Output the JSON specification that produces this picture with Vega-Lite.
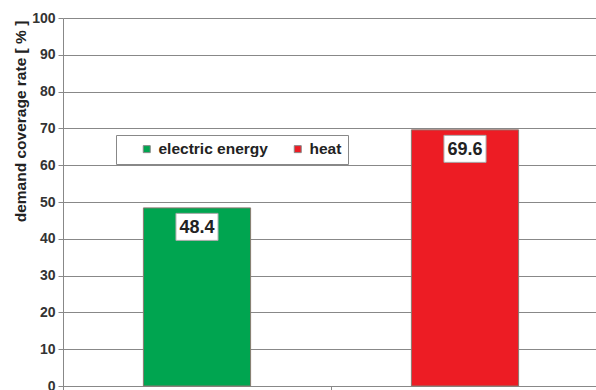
{
  "$schema": "https://vega.github.io/schema/vega-lite/v6.json",
  "width": 536,
  "height": 368,
  "autosize": {"type": "none"},
  "padding": {"left": 63, "top": 18, "right": 0, "bottom": 4},
  "background": "white",
  "config": {
    "font": "Liberation Sans",
    "view": {"stroke": null}
  },
  "data": {
    "values": [
      {"type": "electric energy", "rate": 48.4},
      {"type": "heat", "rate": 69.6}
    ]
  },
  "encoding": {
    "x": {
      "field": "type",
      "type": "nominal",
      "sort": ["electric energy", "heat"],
      "scale": {"paddingInner": 0, "paddingOuter": 0},
      "axis": {
        "title": null,
        "labels": false,
        "bandPosition": 0,
        "domainColor": "#888",
        "tickColor": "#888",
        "tickSize": 5,
        "grid": false
      }
    },
    "y": {
      "field": "rate",
      "type": "quantitative",
      "scale": {"domain": [0, 100], "nice": false},
      "axis": {
        "title": "demand coverage rate [ % ]",
        "titleFont": "Liberation Sans",
        "titleFontSize": 15.5,
        "titleFontWeight": "bold",
        "titleColor": "#222",
        "titleAngle": 270,
        "titleAlign": "center",
        "titleBaseline": "middle",
        "titleX": -43,
        "titleY": 103,
        "values": [0, 10, 20, 30, 40, 50, 60, 70, 80, 90, 100],
        "labelFontSize": 14,
        "labelFontWeight": "bold",
        "labelColor": "#333",
        "labelPadding": 3,
        "tickSize": 5,
        "tickColor": "#888",
        "domainColor": "#888",
        "grid": true,
        "gridColor": "#888",
        "gridWidth": 1.2
      }
    }
  },
  "layer": [
    {
      "mark": {"type": "bar", "width": {"band": 0.4}, "stroke": "#8a7a70", "strokeWidth": 1},
      "encoding": {
        "color": {
          "field": "type",
          "type": "nominal",
          "scale": {"domain": ["electric energy", "heat"], "range": ["#00a550", "#ed1c24"]},
          "legend": {
            "title": null,
            "orient": "none",
            "legendX": 53,
            "legendY": 117,
            "direction": "horizontal",
            "fillColor": "white",
            "strokeColor": "#888",
            "padding": 6,
            "symbolType": "square",
            "symbolSize": 49,
            "symbolStrokeColor": "#888",
            "symbolStrokeWidth": 1,
            "symbolOffset": 17,
            "labelOffset": 4,
            "columnPadding": 5,
            "labelFontSize": 15.5,
            "labelFontWeight": "bold",
            "labelColor": "#222"
          }
        }
      }
    },
    {
      "mark": {
        "type": "point",
        "shape": "M-0.78,-0.5H0.78V0.5H-0.78Z",
        "size": 2916,
        "filled": true,
        "fill": "white",
        "stroke": "#aaa",
        "strokeWidth": 1,
        "opacity": 1,
        "yOffset": 19
      }
    },
    {
      "mark": {
        "type": "text",
        "font": "Liberation Sans",
        "fontSize": 18,
        "fontWeight": "bold",
        "color": "#222",
        "baseline": "middle",
        "yOffset": 20
      },
      "encoding": {"text": {"field": "rate", "type": "quantitative", "format": ".1f"}}
    }
  ]
}
